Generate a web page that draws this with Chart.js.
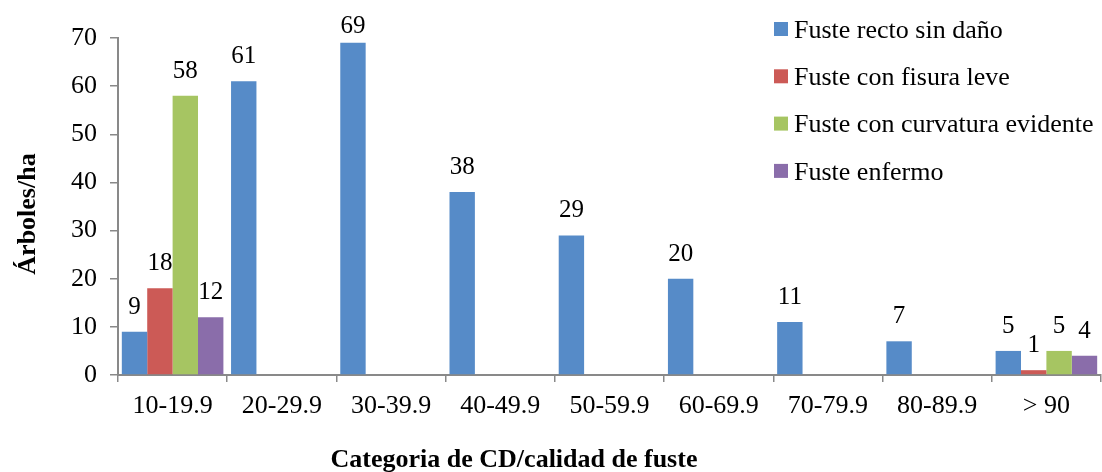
<!DOCTYPE html>
<html>
<head>
<meta charset="utf-8">
<script src="https://cdn.jsdelivr.net/npm/chart.js@4.4.1/dist/chart.umd.min.js"></script>
<style>
  html, body { margin: 0; padding: 0; background: #ffffff; }
  #wrap { width: 1102px; height: 472px; }
</style>
</head>
<body>
<div id="wrap"><canvas id="c" width="1102" height="472"></canvas></div>
<script>
// Diameter classes (cm)
const categories = ['10-19.9', '20-29.9', '30-39.9', '40-49.9', '50-59.9', '60-69.9', '70-79.9', '80-89.9', '> 90'];

// Trees per hectare by stem quality
const seriesNames = ['Fuste recto sin daño', 'Fuste con fisura leve', 'Fuste con curvatura evidente', 'Fuste enfermo'];
const rectoSinDano      = [9, 61, 69, 38, 29, 20, 11, 7, 5];
const fisuraLeve        = [18, 0, 0, 0, 0, 0, 0, 0, 1];
const curvaturaEvidente = [58, 0, 0, 0, 0, 0, 0, 0, 5];
const enfermo           = [12, 0, 0, 0, 0, 0, 0, 0, 4];

const yTicks = [0, 10, 20, 30, 40, 50, 60, 70];

const seriesColors = ['#568BC8', '#CC5A56', '#A6C562', '#8A6DAA'];

const FONT = '"Liberation Serif", "Times New Roman", Times, serif';
const AXIS = '#898989';

const datasets = [rectoSinDano, fisuraLeve, curvaturaEvidente, enfermo].map((vals, i) => ({
  label: seriesNames[i],
  data: vals,
  backgroundColor: seriesColors[i],
  borderWidth: 0,
  categoryPercentage: 0.93,
  barPercentage: 1.0
}));

// Value labels above every non-zero bar
const valueLabels = {
  id: 'valueLabels',
  afterDatasetsDraw(chart) {
    const ctx = chart.ctx;
    ctx.save();
    ctx.font = '25px ' + FONT;
    ctx.fillStyle = '#000';
    ctx.textAlign = 'center';
    ctx.textBaseline = 'alphabetic';
    chart.data.datasets.forEach((ds, di) => {
      const meta = chart.getDatasetMeta(di);
      meta.data.forEach((bar, idx) => {
        const v = ds.data[idx];
        if (!v) return;
        const y = Math.max(bar.y - 18, chart.chartArea.top - 5);
        ctx.fillText(String(v), bar.x, y);
      });
    });
    ctx.restore();
  }
};

// Legend block on the upper right, plus both axis titles
const decorations = {
  id: 'decorations',
  afterDraw(chart) {
    const ctx = chart.ctx;
    ctx.save();
    // legend
    ctx.font = '26px ' + FONT;
    ctx.textAlign = 'left';
    ctx.textBaseline = 'alphabetic';
    chart.data.datasets.forEach((ds, i) => {
      const cy = 29 + i * 47.3;
      ctx.fillStyle = ds.backgroundColor;
      ctx.fillRect(774, cy - 7, 14, 14);
      ctx.fillStyle = '#000';
      ctx.fillText(ds.label, 794, cy + 8.7);
    });
    // axis titles
    ctx.font = 'bold 26px ' + FONT;
    ctx.textAlign = 'center';
    ctx.fillText('Categoria de CD/calidad de fuste', 514, 467);
    ctx.translate(34.5, 214);
    ctx.rotate(-Math.PI / 2);
    ctx.fillText('Árboles/ha', 0, 0);
    ctx.restore();
  }
};

new Chart(document.getElementById('c'), {
  type: 'bar',
  data: { labels: categories, datasets },
  plugins: [valueLabels, decorations],
  options: {
    responsive: false,
    animation: false,
    devicePixelRatio: 1,
    layout: { padding: { top: 38, right: 1, left: 0, bottom: 0 } },
    plugins: {
      legend: { display: false },
      tooltip: { enabled: false }
    },
    scales: {
      x: {
        grid: { display: true, drawOnChartArea: false, offset: true, tickLength: 7, color: AXIS, lineWidth: 1.5 },
        border: { display: true, color: AXIS, width: 2 },
        ticks: { color: '#000', font: { family: FONT, size: 26 }, padding: 9, maxRotation: 0, autoSkip: false },
        afterFit(scale) { scale.height = 97; }
      },
      y: {
        min: 0,
        max: 70,
        afterBuildTicks(scale) { scale.ticks = yTicks.map(v => ({ value: v })); },
        grid: { display: true, drawOnChartArea: false, tickLength: 8, color: AXIS, lineWidth: 1.5 },
        border: { display: true, color: AXIS, width: 2 },
        ticks: { color: '#000', font: { family: FONT, size: 26 }, padding: 13 },
        afterFit(scale) { scale.width = 118; }
      }
    }
  }
});
</script>
</body>
</html>
